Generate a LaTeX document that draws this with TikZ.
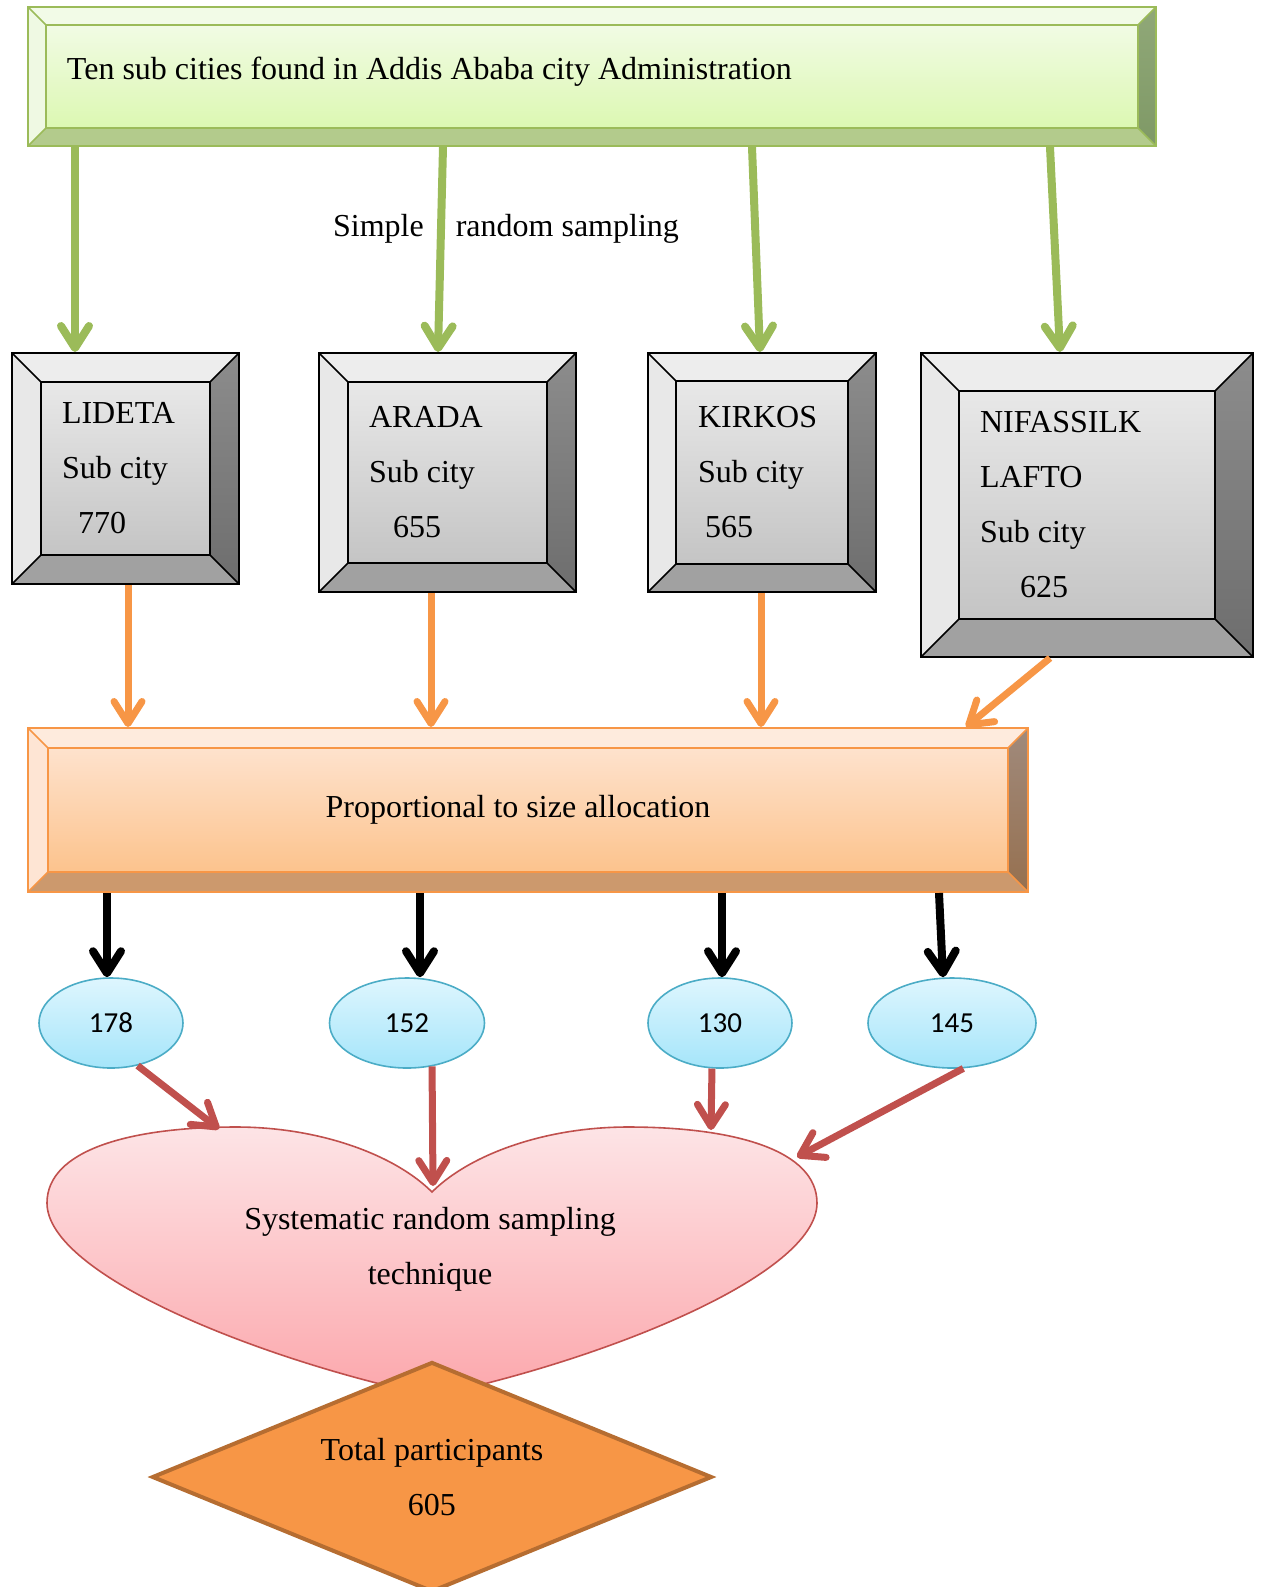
\documentclass[tikz,border=0pt]{standalone}
\usepackage{fontspec}
\setmainfont{Liberation Serif}
\newfontfamily\calibri{Carlito}
\usetikzlibrary{calc,arrows.meta,shapes.geometric}

\definecolor{grn}{HTML}{9BBB59}
\definecolor{org}{HTML}{F79646}
\definecolor{rd}{HTML}{C0504D}
\definecolor{blu}{HTML}{4BACC6}
\definecolor{brn}{HTML}{B66D31}

% bevel faces drawn inside a node: bevel, top, left, bottom, right (top/bottom), inner (top/bottom), line colour
\newcommand\bevelfaces[9]{%
  \coordinate (bvnw) at (path picture bounding box.north west);
  \coordinate (bvse) at (path picture bounding box.south east);
  \coordinate (bvne) at (bvnw -| bvse);
  \coordinate (bvsw) at (bvnw |- bvse);
  \coordinate (bvinw) at ($(bvnw)+(#1,#1)$);
  \coordinate (bvine) at ($(bvne)+(-#1,#1)$);
  \coordinate (bvise) at ($(bvse)+(-#1,-#1)$);
  \coordinate (bvisw) at ($(bvsw)+(#1,-#1)$);
  \fill[#2] (bvnw)--(bvne)--(bvine)--(bvinw)--cycle;
  \fill[#3] (bvnw)--(bvinw)--(bvisw)--(bvsw)--cycle;
  \fill[#4] (bvsw)--(bvisw)--(bvise)--(bvse)--cycle;
  \shade[top color=#5,bottom color=#6] (bvne)--(bvse)--(bvise)--(bvine)--cycle;
  \shade[top color=#7,bottom color=#8] (bvinw) rectangle (bvise);
  \draw[#9,line width=0.8pt] (bvinw) rectangle (bvise)
    (bvnw)--(bvinw) (bvne)--(bvine) (bvse)--(bvise) (bvsw)--(bvisw);}

\definecolor{gtop}{HTML}{F2FBE7}
\definecolor{gleft}{HTML}{EFF9E3}
\definecolor{gbot}{HTML}{B3CB8C}
\definecolor{grt}{HTML}{90A878}
\definecolor{grb}{HTML}{7F9966}
\definecolor{gin1}{HTML}{F1FBE4}
\definecolor{gin2}{HTML}{DCF8B2}
\definecolor{otop}{HTML}{FEEBDD}
\definecolor{oleft}{HTML}{FEE5D4}
\definecolor{obot}{HTML}{CC996D}
\definecolor{ort}{HTML}{A08A7C}
\definecolor{orb}{HTML}{96704F}
\definecolor{oin1}{HTML}{FEE2CD}
\definecolor{oin2}{HTML}{FCC38D}
\definecolor{cy1}{HTML}{DEF6FE}
\definecolor{cy2}{HTML}{A5E5FA}
\definecolor{pk1}{HTML}{FDE4E6}
\definecolor{pk2}{HTML}{FCA7AC}

\begin{document}
\begin{tikzpicture}[x=0.5pt,y=-0.5pt,
  txt/.style={font=\fontsize{16}{27.5}\selectfont},
  greenbox/.style={draw=grn,line width=1pt,inner sep=0pt,txt,align=flush left,
    path picture={\bevelfaces{18}{gtop}{gleft}{gbot}{grt}{grb}{gin1}{gin2}{grn}}},
  graybox/.style={draw=black,line width=1pt,inner sep=0pt,txt,align=flush left,
    path picture={\bevelfaces{#1}{black!7}{black!9}{black!37}{black!45}{black!57}{black!9}{black!23}{black}}},
  orangebox/.style={draw=org,line width=1pt,inner sep=0pt,txt,
    path picture={\bevelfaces{20}{otop}{oleft}{obot}{ort}{orb}{oin1}{oin2}{org}}},
  countnode/.style={ellipse,draw=blu,line width=0.8pt,top color=cy1,bottom color=cy2,
    minimum height=45pt,inner sep=0pt,font=\calibri\fontsize{14.5}{16}\selectfont},
  greenarrow/.style={draw=grn,line width=4pt,-{Straight Barb[round,length=11pt,width=14pt]}},
  orangearrow/.style={draw=org,line width=3.5pt,-{Straight Barb[round,length=11pt,width=14pt]}},
  blackarrow/.style={draw=black,line width=4pt,-{Straight Barb[round,length=11pt,width=14pt]}},
  redarrow/.style={draw=rd,line width=3.5pt,-{Straight Barb[round,length=11pt,width=14pt]}}]
\useasboundingbox (0,0) rectangle (1264,1587);

\node[greenbox,minimum width=564pt,minimum height=69.5pt,text width=525pt,text depth=8pt] (top) at (592,76.5)
  {Ten sub cities found in Addis Ababa city Administration};
\node[txt] (srs) at (506,229) {Simple\hspace{16pt}random sampling};

\node[graybox=29,minimum width=113.5pt,minimum height=115.5pt,text width=63.5pt] (lideta) at (125.5,468.5)
  {LIDETA\\Sub city\\\hspace*{8pt}770};
\node[graybox=29,minimum width=128.5pt,minimum height=119.5pt,text width=78.5pt] (arada) at (447.5,472.5)
  {ARADA\\Sub city\\\hspace*{12pt}655};
\node[graybox=28,minimum width=114pt,minimum height=119.5pt,text width=64pt] (kirkos) at (762,472.5)
  {KIRKOS\\Sub city\\\hspace*{3.5pt}565};
\node[graybox=38,minimum width=166pt,minimum height=152pt,text width=107pt] (nifas) at (1087,505)
  {NIFASSILK\\LAFTO\\Sub city\\\hspace*{20pt}625};

\draw[greenarrow] ([xshift=-25.25pt]lideta.north |- top.south) -- ([xshift=-25.25pt]lideta.north);
\draw[greenarrow] ([xshift=-2.25pt]arada.north |- top.south) -- ([xshift=-4.75pt]arada.north);
\draw[greenarrow] ([xshift=-5pt]kirkos.north |- top.south) -- ([xshift=-1pt]kirkos.north);
\draw[greenarrow] ([xshift=-18.5pt]nifas.north |- top.south) -- ([xshift=-13.5pt]nifas.north);

\node[orangebox,minimum width=500pt,minimum height=82pt] (prop) at (528,810)
  {Proportional to size allocation\hspace*{10pt}};

\draw[orangearrow] ([xshift=1.25pt]lideta.south) -- ([xshift=1.25pt]lideta.south |- prop.north);
\draw[orangearrow] ([xshift=-8.25pt]arada.south) -- ([xshift=-8.25pt]arada.south |- prop.north);
\draw[orangearrow] ([xshift=-0.5pt]kirkos.south) -- ([xshift=-0.5pt]kirkos.south |- prop.north);
\draw[orangearrow] ([xshift=-18.5pt]nifas.south) -- ([xshift=219pt]prop.north);

\node[countnode,minimum width=72pt] (c1) at (111,1023) {178};
\node[countnode,minimum width=77.5pt] (c2) at (407,1023) {152};
\node[countnode,minimum width=72pt] (c3) at (720,1023) {130};
\node[countnode,minimum width=84pt] (c4) at (952,1023) {145};

\draw[blackarrow] ([xshift=-2pt]c1.north |- prop.south) -- ([xshift=-2pt]c1.north);
\draw[blackarrow] ([xshift=6.5pt]c2.north |- prop.south) -- ([xshift=6.5pt]c2.north);
\draw[blackarrow] ([xshift=1pt]c3.north |- prop.south) -- ([xshift=1pt]c3.north);
\draw[blackarrow] ([xshift=-6.5pt]c4.north |- prop.south) -- ([xshift=-4.5pt]c4.north);

% heart
\shade[draw=rd,line width=0.8pt,top color=pk1,bottom color=pk2]
  (432,1192) .. controls (395,1155) and (320,1127) .. (236,1127)
  .. controls (130,1127) and (47,1150) .. (47,1203)
  .. controls (47,1275) and (260,1360) .. (432,1396)
  .. controls (604,1360) and (817,1275) .. (817,1203)
  .. controls (817,1150) and (734,1127) .. (628,1127)
  .. controls (544,1127) and (469,1155) .. (432,1192) -- cycle;
\coordinate (h1) at (219,1129);
\coordinate (h2) at (433,1186);
\coordinate (h3) at (711,1130);
\coordinate (h4) at (797,1157);
\node[txt,align=flush center] (sys) at (430,1249) {Systematic random sampling\\technique};

\draw[redarrow] (c1.-58) -- (h1);
\draw[redarrow] (c2.-60) -- (h2);
\draw[redarrow] (c3.-100) -- (h3);
\draw[redarrow] (c4.-76) -- (h4);

\node[diamond,aspect=2.43,draw=brn,line width=2pt,fill=org,minimum width=280pt,minimum height=115pt,
  inner sep=0pt,txt,align=flush center] (total) at (432,1477) {Total participants\\605};
\end{tikzpicture}
\end{document}
